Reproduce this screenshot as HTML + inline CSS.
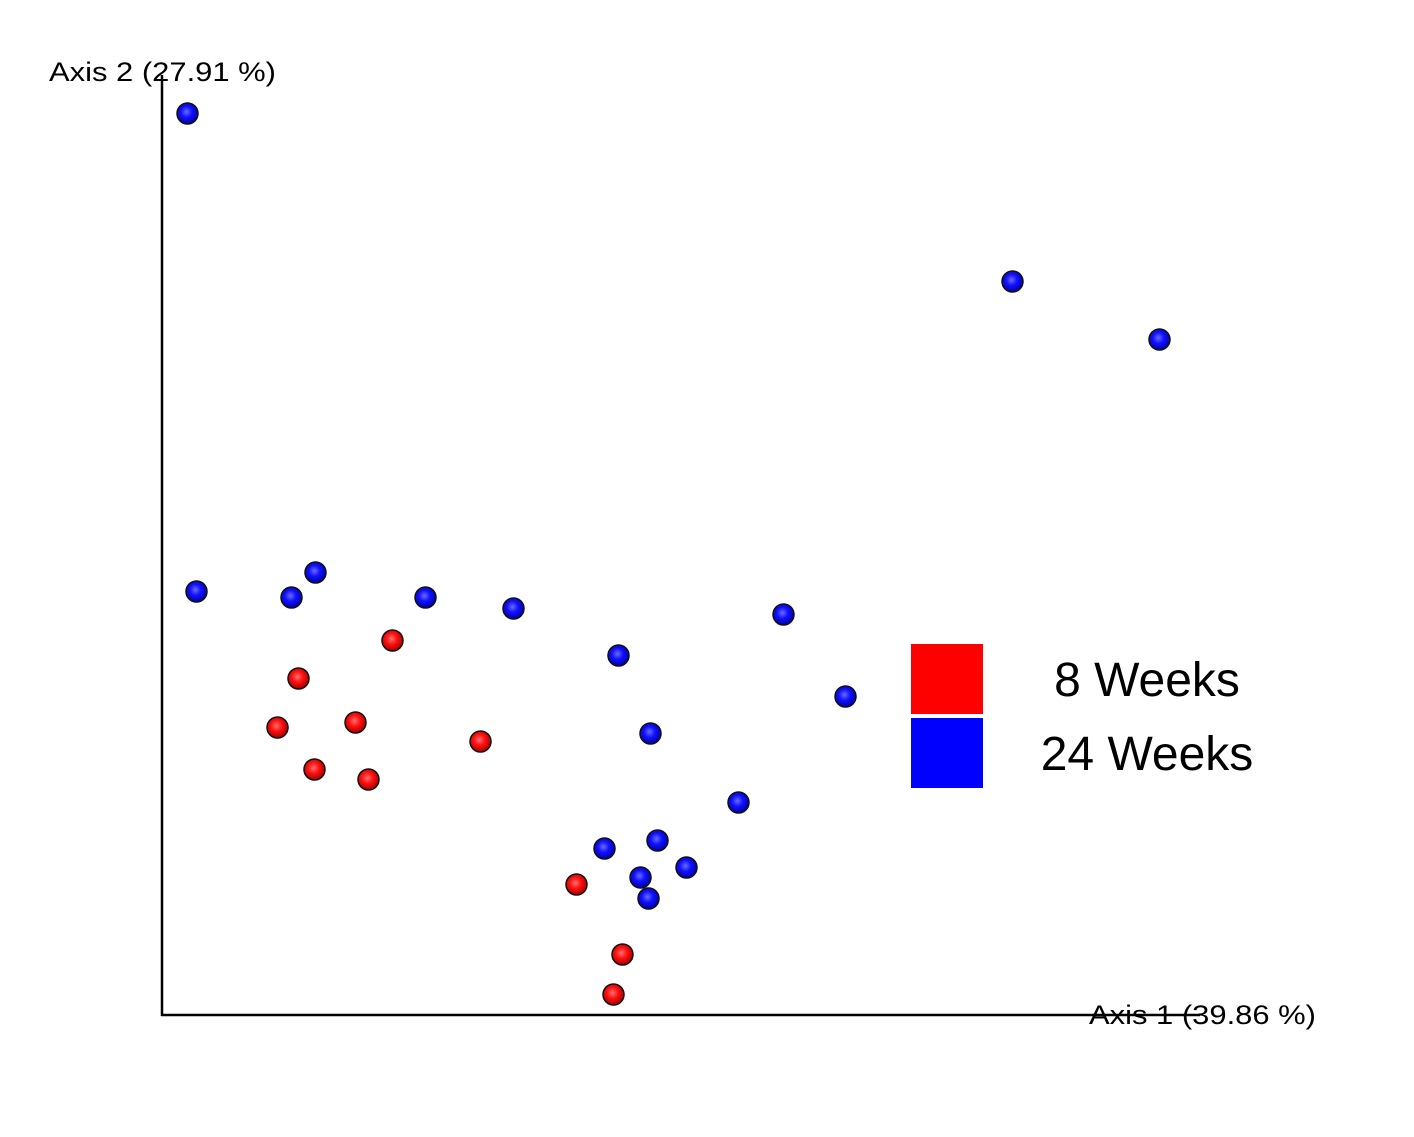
<!DOCTYPE html>
<html><head><meta charset="utf-8"><style>
body{margin:0;background:#fff;font-family:"Liberation Sans",sans-serif}
</style></head><body>
<svg width="1414" height="1132">
<defs>
<radialGradient id="gb" cx="0.45" cy="0.42" r="0.6"><stop offset="0" stop-color="#6a6aff"/><stop offset="0.45" stop-color="#1010ff"/><stop offset="1" stop-color="#0000a0"/></radialGradient>
<radialGradient id="gr" cx="0.45" cy="0.42" r="0.6"><stop offset="0" stop-color="#ff7070"/><stop offset="0.45" stop-color="#ff1010"/><stop offset="1" stop-color="#a00000"/></radialGradient>
</defs>
<line x1="162" y1="75" x2="162" y2="1016" stroke="#000" stroke-width="2.5"/>
<line x1="161" y1="1015" x2="1200" y2="1015" stroke="#000" stroke-width="2.5"/>
<text x="49" y="81" font-size="27" textLength="227" lengthAdjust="spacingAndGlyphs">Axis 2 (27.91 %)</text>
<text x="1089" y="1024" font-size="27" textLength="227" lengthAdjust="spacingAndGlyphs">Axis 1 (39.86 %)</text>
<g id="pts"></g>
<rect x="911" y="644" width="72" height="70" fill="#ff0000"/>
<rect x="911" y="718" width="72" height="70" fill="#0000ff"/>
<text x="1147" y="696" font-size="48" text-anchor="middle">8 Weeks</text>
<text x="1147" y="770" font-size="48" text-anchor="middle">24 Weeks</text>
</svg>
<script>
const blueX=[2.5,85,99.7,3.4,15.3,12.9,26.3,35.1,45.6,62.1,68.3,48.8,57.6,44.2,49.5,52.4,47.8,48.6];
const blueY=[90.2,73.4,67.6,42.4,44.3,41.8,41.8,40.7,36,40.1,31.9,28.2,21.3,16.7,17.5,14.8,13.8,11.7];
const redX=[23,13.6,11.5,19.3,15.2,20.6,31.8,41.4,46,45.1];
const redY=[37.5,33.7,28.8,29.3,24.6,23.6,27.4,13.1,6.1,2.1];
const sx=v=>162.5+v*10, sy=v=>1015.5-v*10;
const g=document.getElementById('pts');
function draw(xs,ys,fill,name){
  xs.forEach((x,i)=>{
    const c=document.createElementNS('http://www.w3.org/2000/svg','circle');
    c.setAttribute('cx',sx(x));c.setAttribute('cy',sy(ys[i]));c.setAttribute('r',10.5);
    c.setAttribute('fill',fill);c.setAttribute('stroke','#111');c.setAttribute('stroke-width','1.5');
    
    
    g.appendChild(c);
  });
}
draw(redX,redY,'url(#gr)','point-8-weeks');
draw(blueX,blueY,'url(#gb)','point-24-weeks');
</script>
</body></html>
